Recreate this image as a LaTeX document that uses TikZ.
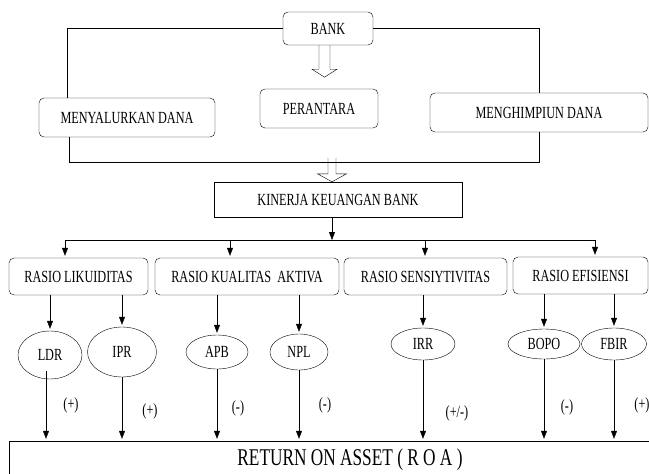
\documentclass[tikz,border=0pt]{standalone}
\usepackage{fontspec}
\setmainfont[FakeStretch=0.72]{Liberation Serif}
\usetikzlibrary{arrows.meta,calc,shapes.geometric}

\begin{document}
\begin{tikzpicture}[x=1pt,y=-1pt,
  every node/.style={font=\fontsize{17}{19}\selectfont},
  box/.style={draw, rounded corners=5pt, minimum height=37pt, inner xsep=4pt},
  ratio/.style={draw, ellipse, inner sep=0pt},
  arr/.style={-{Triangle[length=8pt,width=6pt]}, shorten >=2pt}]
\useasboundingbox (0,0) rectangle (649,474);

\node[box, minimum width=90pt, minimum height=33pt] (bank) at (328,28.5) {BANK};
\node[box, minimum width=118pt, minimum height=39pt] (perantara) at (319,108.5) {PERANTARA};
\node[box, minimum width=176pt, minimum height=39pt] (salur) at (127,117.5) {MENYALURKAN DANA};
\node[box, minimum width=218pt, minimum height=39pt] (himpun) at (539,112.5) {MENGHIMPIUN DANA};
\node[draw, minimum width=248pt, minimum height=35pt] (kinerja) at (338,199.5) {KINERJA KEUANGAN BANK};

\node[box, minimum width=139pt] (likuid) at (78.5,276.5) {RASIO LIKUIDITAS};
\node[box, minimum width=184pt] (kualitas) at (247,276.5) {RASIO KUALITAS\ \ AKTIVA};
\node[box, minimum width=163pt] (sensi) at (425.5,276.5) {RASIO SENSIYTIVITAS};
\node[box, minimum width=135pt] (efis) at (580.5,275.5) {RASIO EFISIENSI};

\node[ratio, minimum width=64pt, minimum height=48pt] (ldr) at (50,355) {LDR};
\node[ratio, minimum width=69pt, minimum height=50pt] (ipr) at (122,352) {IPR};
\node[ratio, minimum width=62pt, minimum height=34pt] (apb) at (217,352) {APB};
\node[ratio, minimum width=58pt, minimum height=36pt] (npl) at (299,352) {NPL};
\node[ratio, minimum width=64pt, minimum height=32pt] (irr) at (423,344) {IRR};
\node[ratio, minimum width=72pt, minimum height=30pt] (bopo) at (544,344) {BOPO};
\node[ratio, minimum width=65pt, minimum height=32pt] (fbir) at (614,344) {FBIR};

\node[draw, minimum width=660pt, minimum height=50pt] (roa) at (339,466) {};
\node[font=\fontsize{24}{26}\selectfont] (roatext) at (350,460) {RETURN ON ASSET ( R O A )};

\node (s1) at (71,405) {(+)};
\node (s2) at (150,411) {(+)};
\node (s3) at (238,408) {(-)};
\node (s4) at (325,405) {(-)};
\node (s5) at (457,413) {(+/-)};
\node (s6) at (567,407) {(-)};
\node (s7) at (642,405) {(+)};

% bank to both sides
\draw (bank) -| ($(salur.north west)+(28,0)$);
\draw (bank) -| (himpun.north);
\draw ($(bank.south)+(-9,0)$) -- ++(0,24) -- ++(-7,0) -- ++(12.5,8)
  -- ++(12.5,-8) -- ++(-7,0) -- ++(0,-24);

% join to kinerja
\coordinate (jl) at (69,162);
\coordinate (jr) at (539,162);
\draw (salur.south -| jl) -- (jl) -- (jr) -- (himpun.south);
\draw ($(kinerja.north)+(-10,-24)$) -- ++(0,16) -- ++(-10.5,0) -- ++(14.5,8)
  -- ++(14.5,-8) -- ++(-10.5,0) -- ++(0,-16);

% split to ratios
\coordinate (split) at (332,240);
\coordinate (b1) at (65,240);
\coordinate (b2) at (230,240);
\coordinate (b3) at (425,240);
\coordinate (b4) at (595,240);
\draw[arr, shorten >=0pt] (kinerja.south -| split) -- (split);
\draw (b1) -- (b4);
\draw[arr] (b1) -- (b1 |- likuid.north);
\draw[arr] (b2) -- (b2 |- kualitas.north);
\draw[arr] (b3) -- (b3 |- sensi.north);
\draw[arr] (b4) -- (b4 |- efis.north);

% ratios to indicators
\draw[arr] (likuid.south -| ldr.north) -- (ldr.north);
\draw[arr] (likuid.south -| ipr.north) -- (ipr.north);
\draw[arr] (kualitas.south -| apb.north) -- (apb.north);
\draw[arr] (kualitas.south -| npl.north) -- (npl.north);
\draw[arr] (sensi.south -| irr.north) -- (irr.north);
\draw[arr] (efis.south -| bopo.north) -- (bopo.north);
\draw[arr] (efis.south -| fbir.north) -- (fbir.north);

% indicators to roa
\draw[arr] ($(ldr.south)+(-4,-8)$) -- ($(ldr.south |- roa.north)+(-4,0)$);
\draw[arr] (ipr.south) -- (ipr.south |- roa.north);
\draw[arr] (apb.south) -- (apb.south |- roa.north);
\draw[arr] (npl.south) -- (npl.south |- roa.north);
\draw[arr] (irr.south) -- (irr.south |- roa.north);
\draw[arr] (bopo.south) -- (bopo.south |- roa.north);
\draw[arr] (fbir.south) -- (fbir.south |- roa.north);
\end{tikzpicture}
\end{document}
